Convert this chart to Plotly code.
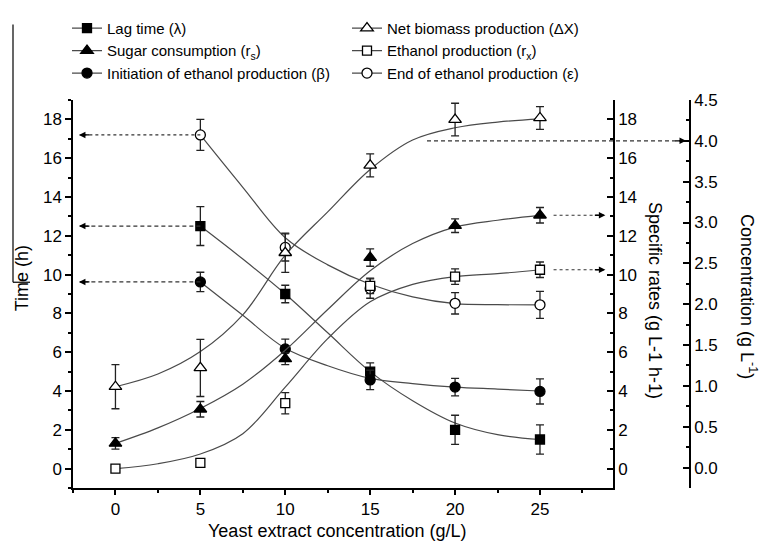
import plotly.graph_objects as go

# ---------------- data ----------------
yeast = [0, 5, 10, 15, 20, 25]
yeast_t = [5, 10, 15, 20, 25]

lag = [12.5, 9.0, 5.0, 2.0, 1.5]
lag_err = [1.0, 0.45, 0.45, 0.75, 0.75]
init = [9.62, 6.17, 4.57, 4.2, 3.98]
init_err = [0.5, 0.5, 0.5, 0.45, 0.65]
end = [17.2, 11.4, 9.28, 8.52, 8.44]
end_err = [0.8, 0.7, 0.5, 0.55, 0.7]

sugar = [1.3, 3.06, 5.66, 10.88, 12.52, 13.06]
sugar_err = [0.3, 0.4, 0.3, 0.45, 0.35, 0.4]
ethanol = [0.0, 0.29, 3.37, 9.42, 9.9, 10.25]
ethanol_err = [0.0, 0.0, 0.55, 0.4, 0.4, 0.4]

biomass = [0.99, 1.22, 2.63, 3.70, 4.26, 4.28]
biomass_err = [0.27, 0.35, 0.24, 0.14, 0.2, 0.14]

# fitted curves
fit_x = [0, 2.5, 5, 7.5, 10, 12.5, 15, 17.5, 20, 22.5, 25]
fit_x_t = [5, 7.5, 10, 12.5, 15, 17.5, 20, 22.5, 25]
biomass_fit = [0.99, 1.145, 1.42, 1.87, 2.60, 3.13, 3.65, 4.01, 4.16, 4.23, 4.27]
sugar_fit = [1.3, 2.1, 3.1, 4.35, 6.1, 8.2, 10.2, 11.6, 12.45, 12.8, 13.05]
ethanol_fit = [0.0, 0.25, 0.75, 1.8, 4.2, 6.7, 8.6, 9.5, 9.9, 10.05, 10.25]
lag_fit = [12.5, 10.8, 9.0, 7.0, 5.0, 3.5, 2.35, 1.75, 1.5]
init_fit = [9.62, 7.9, 6.2, 5.3, 4.65, 4.38, 4.2, 4.1, 4.0]
end_fit = [17.2, 14.5, 11.9, 10.5, 9.5, 8.85, 8.5, 8.45, 8.44]

biomass_level = 4.0  # dashed reference level on concentration axis

# ---------------- styling ----------------
FONT = "Liberation Sans, Arial, sans-serif"
LINE_C = "#4a4a4a"
W, H = 766, 542
ML, MR, MT, MB = 73, 53, 92, 54
PW = W - ML - MR
PH = H - MT - MB
XEND = (613 - ML) / PW
Y3POS = (690 - ML) / PW


def px_x(p):
    return (p - ML) / PW


def px_y(p):
    return (H - MB - p) / PH


series = [
    # name, x, y, err, fit_x, fit_y, yaxis, symbol, fill, size
    ("Lag time (λ)", yeast_t, lag, lag_err, fit_x_t, lag_fit, "y", "square", "black", 9),
    ("Net biomass production (ΔX)", yeast, biomass, biomass_err, fit_x, biomass_fit, "y3", "triangle-up", "white", 11),
    ("Sugar consumption (r<sub>s</sub>)", yeast, sugar, sugar_err, fit_x, sugar_fit, "y2", "triangle-up", "black", 11),
    ("Ethanol production (r<sub>x</sub>)", yeast, ethanol, ethanol_err, fit_x, ethanol_fit, "y2", "square", "white", 9),
    ("Initiation of ethanol production (β)", yeast_t, init, init_err, fit_x_t, init_fit, "y", "circle", "black", 10),
    ("End of ethanol production (ε)", yeast_t, end, end_err, fit_x_t, end_fit, "y", "circle", "white", 10),
]

fig = go.Figure()

# fitted curves
for name, xs, ys, es, fx, fy, ax, sym, fill, sz in series:
    fig.add_trace(go.Scatter(x=fx, y=fy, yaxis=ax, mode="lines",
                             line=dict(color=LINE_C, width=1.2, shape="spline", smoothing=1.0),
                             showlegend=False, hoverinfo="skip"))

# data points with error bars
for name, xs, ys, es, fx, fy, ax, sym, fill, sz in series:
    fig.add_trace(go.Scatter(x=xs, y=ys, yaxis=ax, mode="markers",
                             marker=dict(symbol=sym, size=sz, color=fill,
                                         line=dict(color="black", width=1.3)),
                             error_y=dict(type="data", array=es, visible=True,
                                          color="#222", thickness=1.3, width=4),
                             showlegend=False))

# legend entries
for name, xs, ys, es, fx, fy, ax, sym, fill, sz in series:
    fig.add_trace(go.Scatter(x=[None], y=[None], yaxis=ax, mode="lines+markers", name=name,
                             marker=dict(symbol=sym, size=sz, color=fill,
                                         line=dict(color="black", width=1.3)),
                             line=dict(color=LINE_C, width=1.2)))

tickfont = dict(family=FONT, size=17, color="black")

shapes = []
annotations = []

# left arrows (times at yeast = 5)
for val, dash in [(end[0], "dot"), (lag[0], "4px,3px"), (init[0], "4px,3px")]:
    shapes.append(dict(type="line", xref="x", yref="y", x0=yeast_t[0], x1=-2.1,
                       y0=val, y1=val, line=dict(color="#333", width=1.2, dash=dash)))
    annotations.append(dict(x=-2.15, y=val, xref="x", yref="y", ax=12, ay=0, text="",
                            showarrow=True, arrowhead=2, arrowsize=1, arrowwidth=1.3,
                            arrowcolor="black"))

# right arrows (rates at yeast = 25)
for val in [sugar[-1], ethanol[-1]]:
    shapes.append(dict(type="line", xref="x", yref="y2", x0=25.8, x1=28.6,
                       y0=val, y1=val, line=dict(color="#333", width=1.2, dash="dot")))
    annotations.append(dict(x=28.85, y=val, xref="x", yref="y2", ax=-12, ay=0, text="",
                            showarrow=True, arrowhead=2, arrowsize=1, arrowwidth=1.3,
                            arrowcolor="black"))

# biomass level arrow to concentration axis
shapes.append(dict(type="line", xref="paper", yref="y3", x0=px_x(427), x1=px_x(680),
                   y0=biomass_level, y1=biomass_level,
                   line=dict(color="#333", width=1.2, dash="4px,3px")))
annotations.append(dict(x=px_x(686), y=biomass_level, xref="paper", yref="y3", ax=-12, ay=0,
                        text="", showarrow=True, arrowhead=2, arrowsize=1, arrowwidth=1.3,
                        arrowcolor="black"))

# frame artifact at top-left
shapes.append(dict(type="line", xref="paper", yref="paper", x0=px_x(13), x1=px_x(13),
                   y0=px_y(15), y1=px_y(278), line=dict(color="black", width=1.2)))
shapes.append(dict(type="line", xref="paper", yref="paper", x0=px_x(13), x1=px_x(30),
                   y0=px_y(278), y1=px_y(278), line=dict(color="black", width=1.2)))

# axis titles
title_font = dict(family=FONT, size=18, color="black")
annotations += [
    dict(text="Time (h)", xref="paper", yref="paper", x=px_x(22), y=px_y(274),
         xanchor="center", yanchor="middle",
         showarrow=False, textangle=-90, font=title_font),
    dict(text="Yeast extract concentration (g/L)", xref="paper", yref="paper",
         x=px_x(337), y=px_y(532), xanchor="center", yanchor="middle",
         showarrow=False, font=title_font),
    dict(text="Specific rates (g L-1 h-1)", xref="paper", yref="paper",
         x=px_x(655), y=px_y(296), xanchor="center", yanchor="middle",
         showarrow=False, textangle=90, font=title_font),
    dict(text="Concentration (g L<sup>-1</sup>)", xref="paper", yref="paper",
         x=px_x(748), y=px_y(292), xanchor="center", yanchor="middle",
         showarrow=False, textangle=90, font=title_font),
]

common_y = dict(showgrid=False, zeroline=False, showline=True, linecolor="black", linewidth=1.5,
                tickfont=tickfont, ticklen=6, tickwidth=1.5, tickcolor="black")

fig.update_layout(
    width=W, height=H,
    margin=dict(l=ML, r=MR, t=MT, b=MB, pad=0),
    paper_bgcolor="white", plot_bgcolor="white",
    font=dict(family=FONT, color="black"),
    xaxis=dict(domain=[0, XEND], range=[-2.5, 29.3], showgrid=False, zeroline=False,
               showline=True, linecolor="black", linewidth=1.5,
               ticks="outside", ticklen=5, tickwidth=1.5, tickcolor="black",
               tickmode="array", tickvals=yeast, tickfont=tickfont,
               minor=dict(ticks="outside", ticklen=3, tickwidth=1.5, dtick=2.5, tick0=0,
                          tickcolor="black", showgrid=False)),
    yaxis=dict(range=[-1, 19], ticks="outside", dtick=2, tick0=0,
               minor=dict(ticks="outside", ticklen=3, tickwidth=1.5, dtick=1, tick0=0,
                          tickcolor="black", showgrid=False),
               **common_y),
    yaxis2=dict(range=[-1, 19], overlaying="y", side="right", anchor="x", ticks="inside",
                dtick=2, tick0=0,
                minor=dict(ticks="inside", ticklen=3, tickwidth=1.5, dtick=1, tick0=0,
                           tickcolor="black", showgrid=False),
                **common_y),
    yaxis3=dict(range=[-0.25, 4.5], overlaying="y", side="right", anchor="free",
                position=Y3POS, ticks="inside", dtick=0.5, tick0=0, tickformat=".1f",
                minor=dict(ticks="inside", ticklen=3, tickwidth=1.5, dtick=0.25, tick0=0,
                           tickcolor="black", showgrid=False),
                **common_y),
    legend=dict(orientation="h", x=px_x(67), y=px_y(2), xanchor="left", yanchor="top",
                xref="paper", yref="paper",
                entrywidth=235, entrywidthmode="pixels", tracegroupgap=0,
                font=dict(family=FONT, size=15, color="black"),
                bgcolor="rgba(0,0,0,0)", itemwidth=30),
    shapes=shapes,
    annotations=annotations,
)

fig.write_html("out.html")
